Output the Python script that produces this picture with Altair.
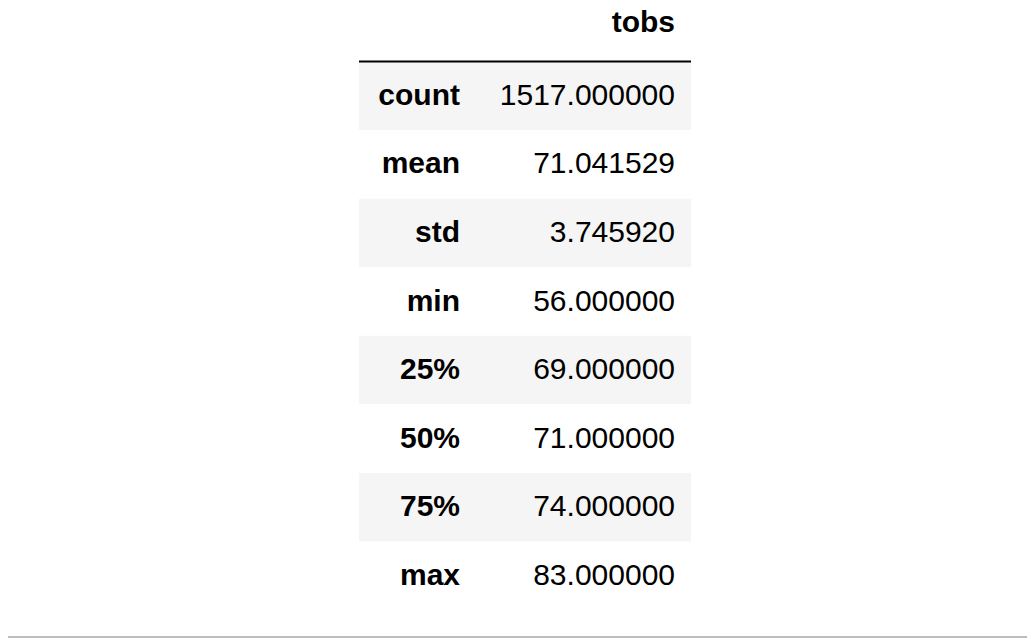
import altair as alt
import pandas as pd

stats = ["count", "mean", "std", "min", "25%", "50%", "75%", "max"]
values = ["1517.000000", "71.041529", "3.745920", "56.000000",
          "69.000000", "71.000000", "74.000000", "83.000000"]
column = "tobs"

df = pd.DataFrame({"stat": stats, "value": values, "row": list(range(1, 9))})
df["row2"] = df["row"] + 1
df["mid"] = df["row"] + 0.5
df["striped"] = df["row"] % 2 == 1
hdr = pd.DataFrame({"label": [column], "mid": [0.44], "row": [1]})

W, H = 1019, 630
ys = alt.Scale(domain=[0, 9], range=[-15, 602])
FONT = "Liberation Sans"
FS = 30

base = alt.Chart(df)
bg = base.transform_filter("datum.striped").mark_rect(color="#f5f5f5").encode(
    y=alt.Y("row:Q", scale=ys, axis=None), y2="row2:Q",
    x=alt.value(351), x2=alt.value(683))
idx = base.mark_text(align="right", baseline="middle", font=FONT, fontSize=FS,
                     fontWeight="bold", color="#000").encode(
    y=alt.Y("mid:Q", scale=ys), x=alt.value(452), text="stat:N")
val = base.mark_text(align="right", baseline="middle", font=FONT, fontSize=FS,
                     color="#000").encode(
    y=alt.Y("mid:Q", scale=ys), x=alt.value(667), text="value:N")
h = alt.Chart(hdr)
htxt = h.mark_text(align="right", baseline="middle", font=FONT, fontSize=FS,
                   fontWeight="bold", color="#000").encode(
    y=alt.Y("mid:Q", scale=ys), x=alt.value(667), text="label:N")
hline = h.mark_rule(color="#000", strokeWidth=2).encode(
    y=alt.Y("row:Q", scale=ys), x=alt.value(351), x2=alt.value(683))
bottom = h.mark_rule(color="#bdbdbd", strokeWidth=2).encode(
    y=alt.value(629), x=alt.value(-8), x2=alt.value(W + 8))

chart = alt.layer(bg, hline, bottom, idx, val, htxt).properties(
    width=W, height=H, padding=0, autosize=alt.AutoSizeParams(type="none")
).configure_view(stroke=None)
chart.save("out.html", embed_options={"renderer": "svg", "actions": False})
